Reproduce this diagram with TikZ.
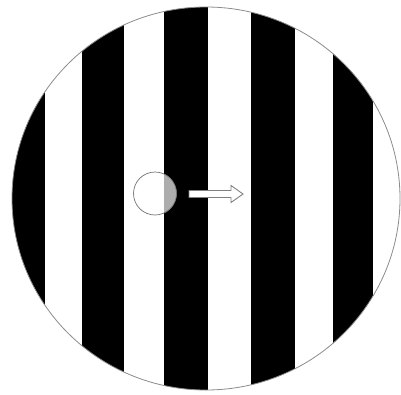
\documentclass[tikz,border=0pt]{standalone}
\begin{document}
\begin{tikzpicture}[x=1pt,y=-1pt,
  rim/.style={draw=black!45,line width=0.8pt},
  blob/.style={draw=black!55,line width=0.7pt},
  movearrow/.style={draw=black!50,fill=white,line width=0.9pt,line join=miter}]
\useasboundingbox (0,0) rectangle (401,394);
\fill[white] (0,0) rectangle (401,394);
\begin{scope}
  \clip (206,198.5) ellipse [x radius=194, y radius=191.5];
  \fill[black] (0,0) rectangle (45,394);
  \fill[black] (82,0) rectangle (124,394);
  \fill[black] (164,0) rectangle (208,394);
  \fill[black] (251,0) rectangle (295,394);
  \fill[black] (333,0) rectangle (373,394);
\end{scope}
\draw[rim] (206,198.5) ellipse [x radius=194, y radius=191.5];
% small circle
\fill[white] (155,193.5) circle [radius=21.5];
\begin{scope}
  \clip (164,150) rectangle (200,240);
  \fill[black!32] (155,193.5) circle [radius=21.5];
\end{scope}
\draw[blob] (155,193.5) circle [radius=21.5];
% arrow
\draw[movearrow] (189,190.5) -- (231,190.5) -- (231,185.5) -- (243,194) -- (231,202.5) -- (231,197.5) -- (189,197.5) -- cycle;
\end{tikzpicture}
\end{document}
